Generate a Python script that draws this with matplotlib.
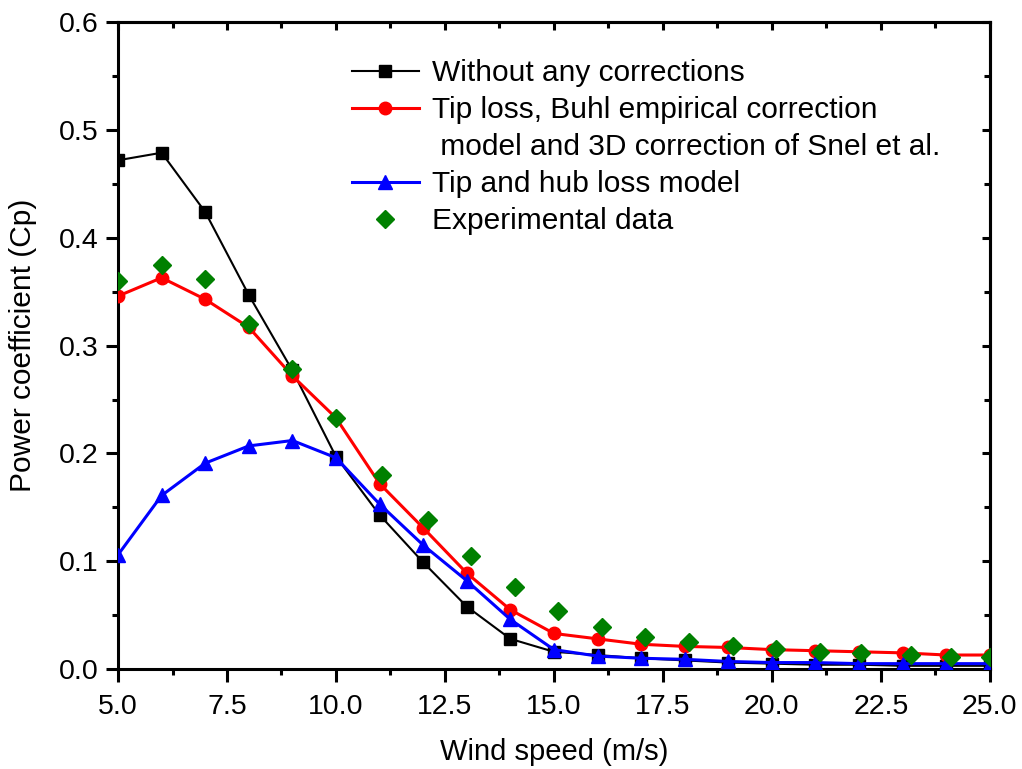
import matplotlib
matplotlib.use("Agg")
import matplotlib.pyplot as plt
from matplotlib.ticker import MultipleLocator, AutoMinorLocator, FormatStrFormatter
from matplotlib.lines import Line2D

plt.rcParams['font.family'] = ['Liberation Sans', 'DejaVu Sans']

wind = [5, 6, 7, 8, 9, 10, 11, 12, 13, 14, 15, 16, 17, 18, 19, 20, 21, 22, 23, 24, 25]
cp_none = [0.472, 0.479, 0.424, 0.347, 0.277, 0.197, 0.143, 0.099, 0.058, 0.028, 0.016,
           0.013, 0.010, 0.008, 0.006, 0.005, 0.004, 0.004, 0.003, 0.003, 0.003]
cp_buhl = [0.346, 0.363, 0.343, 0.317, 0.272, 0.233, 0.172, 0.131, 0.089, 0.055, 0.033,
           0.028, 0.023, 0.021, 0.020, 0.018, 0.017, 0.016, 0.015, 0.013, 0.013]
cp_tiphub = [0.106, 0.161, 0.191, 0.207, 0.212, 0.196, 0.153, 0.115, 0.082, 0.046, 0.018,
             0.012, 0.010, 0.009, 0.007, 0.006, 0.006, 0.005, 0.005, 0.005, 0.005]
exp_wind = [5.0, 6.0, 7.0, 8.0, 9.0, 10.0, 11.05, 12.1, 13.1, 14.1, 15.1, 16.1, 17.1,
            18.1, 19.1, 20.1, 21.1, 22.05, 23.2, 24.1, 25.0]
exp_cp = [0.360, 0.375, 0.362, 0.320, 0.278, 0.233, 0.180, 0.138, 0.105, 0.076, 0.054,
          0.039, 0.030, 0.025, 0.021, 0.019, 0.016, 0.015, 0.013, 0.011, 0.011]

labels = ["Without any corrections",
          "Tip loss, Buhl empirical correction",
          " model and 3D correction of Snel et al.",
          "Tip and hub loss model",
          "Experimental data"]

fig = plt.figure(figsize=(10.22, 7.69), dpi=100)
ax = fig.add_axes([0.1155, 0.130, 0.853, 0.841])

h0, = ax.plot(wind, cp_none, color='black', lw=1.5, marker='s', ms=8.5, zorder=3)
h1, = ax.plot(wind, cp_buhl, color='red', lw=2.2, marker='o', ms=9, zorder=3)
h2, = ax.plot(wind, cp_tiphub, color='blue', lw=2.2, marker='^', ms=10, zorder=4)
h3, = ax.plot(exp_wind, exp_cp, color='green', lw=0, marker='D', ms=9, zorder=5)
blank = Line2D([], [], lw=0, marker=None, alpha=0)

ax.set_xlim(5, 25)
ax.set_ylim(0, 0.6)
ax.xaxis.set_major_locator(MultipleLocator(2.5))
ax.xaxis.set_minor_locator(AutoMinorLocator(2))
ax.yaxis.set_major_locator(MultipleLocator(0.1))
ax.yaxis.set_minor_locator(AutoMinorLocator(2))
ax.xaxis.set_major_formatter(FormatStrFormatter('%.1f'))
ax.yaxis.set_major_formatter(FormatStrFormatter('%.1f'))

for s in ax.spines.values():
    s.set_linewidth(2.2)
ax.tick_params(which='major', direction='out', length=9, width=2.2, labelsize=20.5, pad=5)
ax.tick_params(axis='x', which='major', pad=9)
ax.tick_params(which='minor', direction='out', length=4.5, width=2.2)

for side, make in (('right', ax.secondary_yaxis), ('top', ax.secondary_xaxis)):
    sec = make(side)
    sec.spines[side].set_linewidth(2.2)
    if side == 'right':
        sec.yaxis.set_major_locator(MultipleLocator(0.1))
        sec.yaxis.set_minor_locator(AutoMinorLocator(2))
    else:
        sec.xaxis.set_major_locator(MultipleLocator(2.5))
        sec.xaxis.set_minor_locator(AutoMinorLocator(2))
    sec.tick_params(which='major', direction='in', length=6, width=2.2,
                    labelright=False, labeltop=False)
    sec.tick_params(which='minor', direction='in', length=4, width=2.2)

ax.set_xlabel("Wind speed (m/s)", fontsize=21, labelpad=13)
ax.set_ylabel("Power coefficient (Cp)", fontsize=21.5, labelpad=16)

ax.legend([h0, h1, blank, h2, h3], labels, loc='upper left',
          bbox_to_anchor=(0.344, 0.923), bbox_transform=fig.transFigure,
          frameon=False, fontsize=21.5, handlelength=2.27, handletextpad=0.43,
          labelspacing=0.3, borderaxespad=0, borderpad=0)

fig.savefig("out.png", dpi=100)
